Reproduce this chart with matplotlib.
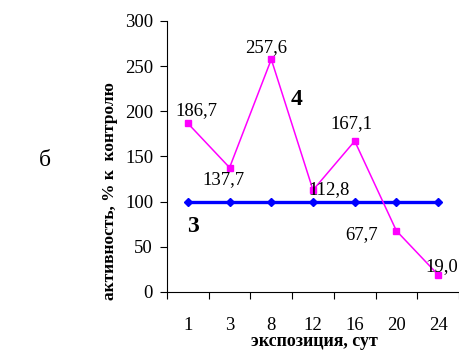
import matplotlib
matplotlib.use("Agg")
import matplotlib.pyplot as plt
import numpy as np

categories = ["1", "3", "8", "12", "16", "20", "24"]
series4 = [186.7, 137.7, 257.6, 112.8, 167.1, 67.7, 19.0]
series3 = [100, 100, 100, 100, 100, 100, 100]
labels4 = ["186,7", "137,7", "257,6", "112,8", "167,1", "67,7", "19,0"]
label_offsets = [(9, 13), (-6, -12), (-5, 12), (16, 1), (-3, 17), (-35, -4), (4, 8)]

plt.rcParams['font.family'] = ['Liberation Serif', 'DejaVu Serif']

fig = plt.figure(figsize=(4.6, 3.51), dpi=100)
ax = fig.add_axes([167/460, 1 - 292/351, (459-167)/460, (292-21)/351])

x = np.arange(len(categories))
ax.plot(x, series3, color='#0000FF', lw=2.4, marker='D', ms=4, zorder=3)
ax.plot(x, series4, color='#FF00FF', lw=1.1, marker='s', ms=5, zorder=4)

for xi, yi, lab, off in zip(x, series4, labels4, label_offsets):
    ax.annotate(lab, (xi, yi), xytext=off, textcoords='offset pixels',
                ha='center', va='center', fontsize=13.5, zorder=5)

ax.set_xlim(-0.5, len(categories) - 0.5)
ax.set_ylim(0, 300)
ax.set_yticks(np.arange(0, 301, 50))
ax.tick_params(axis='y', labelsize=13.5, length=5, width=0.8, pad=5)
ax.set_xticks(x)
ax.set_xticklabels(categories)
ax.tick_params(axis='x', which='major', length=0, labelsize=13.5, pad=18)
ax.set_xticks(np.arange(-0.5, len(categories) + 0.5, 1), minor=True)
ax.tick_params(axis='x', which='minor', length=5, width=0.8, direction='out')

for s in ['top', 'right']:
    ax.spines[s].set_visible(False)
for s in ['left', 'bottom']:
    ax.spines[s].set_linewidth(0.8)

fig.text(110/460, 1 - 191/351, "активность, % к  контролю", rotation=90,
         ha='center', va='center', fontsize=12.5, fontweight='bold')
fig.text(314/460, 1 - 342/351, "экспозиция, сут", ha='center', va='center',
         fontsize=13, fontweight='bold')
fig.text(45/460, 1 - 160/351, "б", ha='center', va='center', fontsize=17)
fig.text(193/460, 1 - 226/351, "3", ha='center', va='center', fontsize=17, fontweight='bold')
fig.text(297/460, 1 - 100/351, "4", ha='center', va='center', fontsize=17, fontweight='bold')

fig.savefig("out.png", dpi=100)
